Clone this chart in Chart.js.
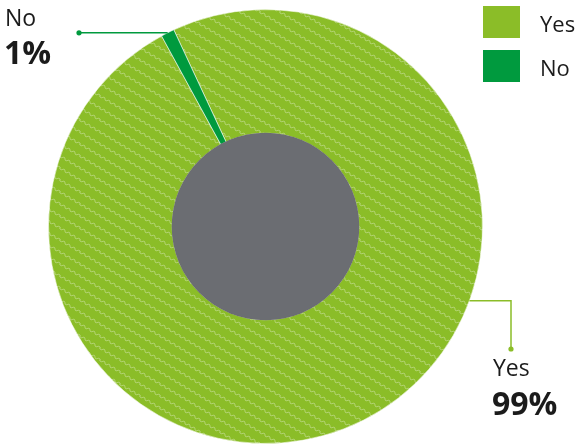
<!DOCTYPE html>
<html>
<head>
<meta charset="utf-8">
<script src="https://cdn.jsdelivr.net/npm/chart.js@4/dist/chart.umd.min.js"></script>
<style>
  html, body { margin: 0; padding: 0; background: #fff; }
  #wrap { position: relative; width: 578px; height: 446px; }
</style>
</head>
<body>
<div id="wrap"><canvas id="c"></canvas></div>
<script>
// Survey answers
const categories = ['Yes', 'No'];
const values = [99, 1];

const sliceColors = ['#8bbd28', '#009a3e'];
const centerGrey = '#6b6d72';
const textColor = '#1b1b1b';
const FONT = '"Open Sans", "Noto Sans", sans-serif';

const canvas = document.getElementById('c');
const ctx = canvas.getContext('2d');

// Diagonal wavy white hatching laid over a base colour
function hatch(base) {
  const W = 20, H = 12;
  const tile = document.createElement('canvas');
  tile.width = W; tile.height = H;
  const g = tile.getContext('2d');
  g.fillStyle = base;
  g.fillRect(0, 0, W, H);
  g.strokeStyle = 'rgba(255,255,255,0.38)';
  g.lineWidth = 1;
  const len = Math.hypot(W, H);
  const px = -H / len, py = W / len;
  const shifts = [[0, 0], [W, 0], [-W, 0], [0, H], [0, -H], [W, -H], [-W, H]];
  for (const [ox, oy] of shifts) {
    g.beginPath();
    for (let i = -5; i <= 105; i++) {
      const t = i / 100;
      const s = 1.0 * Math.sin(2 * Math.PI * 4 * t);
      const x = ox + t * W + px * s;
      const y = oy + t * H + py * s;
      if (i === -5) g.moveTo(x, y); else g.lineTo(x, y);
    }
    g.stroke();
  }
  return ctx.createPattern(tile, 'repeat');
}

// Where each callout leaves the ring (degrees clockwise from top; null = slice middle)
const calloutAngles = [110, null];

const calloutPlugin = {
  id: 'callouts',
  afterDatasetsDraw(chart) {
    const c = chart.ctx;
    const arcs = chart.getDatasetMeta(0).data;
    const a0 = arcs[0];

    // grey centre disc
    c.save();
    c.beginPath();
    c.arc(a0.x, a0.y, a0.innerRadius + 0.5, 0, Math.PI * 2);
    c.fillStyle = centerGrey;
    c.fill();
    c.restore();

    arcs.forEach((arc, i) => {
      const deg = calloutAngles[i];
      const ang = deg === null ? (arc.startAngle + arc.endAngle) / 2 : (deg - 90) * Math.PI / 180;
      const sx = arc.x + arc.outerRadius * Math.cos(ang);
      const sy = arc.y + arc.outerRadius * Math.sin(ang);
      c.save();
      c.strokeStyle = sliceColors[i];
      c.fillStyle = sliceColors[i];
      c.lineWidth = 1.5;
      c.beginPath();
      let dotX, dotY;
      if (i === 0) {
        const elbowX = 511;
        dotX = elbowX; dotY = 349;
        c.moveTo(sx, sy);
        c.lineTo(elbowX, sy);
        c.lineTo(elbowX, dotY);
      } else {
        dotX = 79; dotY = sy;
        c.moveTo(sx, sy);
        c.lineTo(dotX, sy);
      }
      c.stroke();
      c.beginPath();
      c.arc(dotX, dotY, 2.6, 0, Math.PI * 2);
      c.fill();

      c.fillStyle = textColor;
      c.textAlign = 'left';
      c.textBaseline = 'alphabetic';
      const tx = i === 0 ? 493 : 5;
      const nameY = i === 0 ? 376 : 26;
      const pctY = i === 0 ? 415 : 64;
      c.font = '400 23px ' + FONT;
      c.fillText(chart.data.labels[i], tx, nameY);
      c.font = '700 32px ' + FONT;
      c.fillText(values[i] + '%', tx - 1, pctY);
      c.restore();
    });

    // legend
    c.save();
    chart.data.labels.forEach((lab, i) => {
      const top = 6 + i * 44;
      c.fillStyle = sliceColors[i];
      c.fillRect(483, top, 37, 32);
      c.fillStyle = textColor;
      c.font = '400 22px ' + FONT;
      c.textAlign = 'left';
      c.textBaseline = 'alphabetic';
      c.fillText(lab, 540, top + 26);
    });
    c.restore();
  }
};

new Chart(canvas, {
  type: 'doughnut',
  data: {
    labels: categories,
    datasets: [{
      data: values,
      backgroundColor: [hatch(sliceColors[0]), sliceColors[1]],
      borderColor: 'rgba(255,255,255,0.55)',
      borderWidth: 1
    }]
  },
  options: {
    responsive: true,
    maintainAspectRatio: false,
    animation: false,
    rotation: -25,
    cutout: '43%',
    layout: { padding: { top: 9, bottom: 2, left: 0, right: 47 } },
    plugins: {
      legend: { display: false },
      tooltip: { enabled: false }
    }
  },
  plugins: [calloutPlugin]
});
</script>
</body>
</html>
